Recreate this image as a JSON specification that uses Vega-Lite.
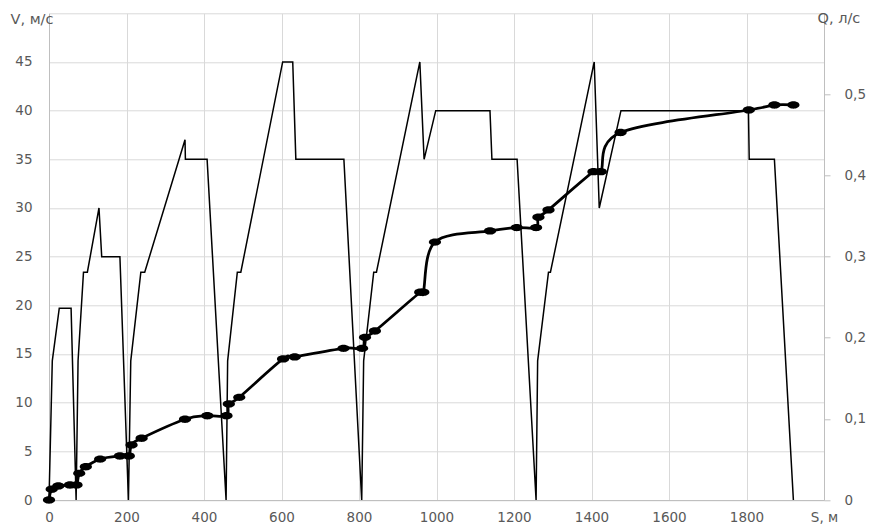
{
  "$schema": "https://vega.github.io/schema/vega-lite/v6.json",
  "width": 775,
  "height": 486.7,
  "autosize": {"type": "none"},
  "padding": {"left": 49, "top": 13.3, "right": 57, "bottom": 26},
  "background": "white",
  "config": {
    "view": {"stroke": null},
    "axis": {
      "labelFont": "DejaVu Sans",
      "labelFontSize": 13.5,
      "labelColor": "#595959",
      "titleFont": "DejaVu Sans",
      "titleFontSize": 14.5,
      "titleFontWeight": "normal",
      "titleColor": "#595959",
      "gridColor": "#d9d9d9",
      "gridWidth": 1,
      "domainColor": "#bfbfbf",
      "domainWidth": 1,
      "tickColor": "#bfbfbf",
      "labelFlush": false,
      "labelOverlap": false
    }
  },
  "datasets": {
    "v": [
      {"S": 0, "V": 0}, {"S": 8.5, "V": 14.3}, {"S": 26.5, "V": 19.7}, {"S": 57, "V": 19.7}, {"S": 70, "V": 0},
      {"S": 75, "V": 14.3}, {"S": 89, "V": 23.4}, {"S": 99, "V": 23.4}, {"S": 129, "V": 30}, {"S": 136, "V": 25}, {"S": 183, "V": 25}, {"S": 205, "V": 0},
      {"S": 211, "V": 14.3}, {"S": 237, "V": 23.4}, {"S": 247, "V": 23.4}, {"S": 351, "V": 37}, {"S": 352, "V": 35}, {"S": 408, "V": 35}, {"S": 457, "V": 0},
      {"S": 461, "V": 14.3}, {"S": 486, "V": 23.4}, {"S": 495, "V": 23.4}, {"S": 603, "V": 45}, {"S": 629, "V": 45}, {"S": 637, "V": 35}, {"S": 761, "V": 35}, {"S": 807, "V": 0},
      {"S": 812, "V": 14.3}, {"S": 838, "V": 23.4}, {"S": 845, "V": 23.4}, {"S": 957, "V": 45}, {"S": 968, "V": 35}, {"S": 998, "V": 40}, {"S": 1138, "V": 40}, {"S": 1143, "V": 35}, {"S": 1208, "V": 35}, {"S": 1257, "V": 0},
      {"S": 1261, "V": 14.3}, {"S": 1289, "V": 23.4}, {"S": 1294, "V": 23.4}, {"S": 1407, "V": 45}, {"S": 1420, "V": 30}, {"S": 1476, "V": 40}, {"S": 1805, "V": 40}, {"S": 1807, "V": 35}, {"S": 1872, "V": 35}, {"S": 1921, "V": 0}
    ],
    "q": [
      {"S": 0, "Q": 0}, {"S": 7, "Q": 0.0132}, {"S": 24, "Q": 0.0173}, {"S": 54, "Q": 0.0185}, {"S": 71, "Q": 0.0185},
      {"S": 78, "Q": 0.0329}, {"S": 95, "Q": 0.041}, {"S": 132, "Q": 0.0504}, {"S": 183, "Q": 0.0542}, {"S": 206, "Q": 0.0542},
      {"S": 213, "Q": 0.0678}, {"S": 239, "Q": 0.0761}, {"S": 351, "Q": 0.0995}, {"S": 408.5, "Q": 0.1039}, {"S": 458, "Q": 0.1039},
      {"S": 464, "Q": 0.1183}, {"S": 491, "Q": 0.1266}, {"S": 604, "Q": 0.1739}, {"S": 634, "Q": 0.1764}, {"S": 760, "Q": 0.187},
      {"S": 808, "Q": 0.187}, {"S": 815.5, "Q": 0.2005}, {"S": 841, "Q": 0.2083}, {"S": 958, "Q": 0.2561}, {"S": 966, "Q": 0.2561},
      {"S": 996, "Q": 0.318}, {"S": 1138, "Q": 0.3317}, {"S": 1207, "Q": 0.3358}, {"S": 1257, "Q": 0.3358}, {"S": 1263, "Q": 0.3486},
      {"S": 1289, "Q": 0.3576}, {"S": 1405, "Q": 0.4048}, {"S": 1424, "Q": 0.4048}, {"S": 1475, "Q": 0.4531}, {"S": 1806, "Q": 0.4808},
      {"S": 1872, "Q": 0.487}, {"S": 1921, "Q": 0.487}
    ]
  },
  "layer": [
    {
      "data": {"name": "v"},
      "mark": {"type": "line", "color": "black", "strokeWidth": 1.5},
      "encoding": {
        "x": {
          "field": "S", "type": "quantitative",
          "scale": {"domain": [0, 2000], "nice": false},
          "axis": {
            "values": [0, 200, 400, 600, 800, 1000, 1200, 1400, 1600, 1800, 2000],
            "format": "d",
            "labelExpr": "datum.value == 2000 ? 'S, м' : datum.label",
            "title": null,
            "grid": true,
            "ticks": false,
            "labelPadding": 10
          }
        },
        "y": {
          "field": "V", "type": "quantitative",
          "scale": {"domain": [0, 50], "nice": false},
          "axis": {
            "values": [0, 5, 10, 15, 20, 25, 30, 35, 40, 45, 50],
            "labelExpr": "datum.value == 50 ? '' : datum.label",
            "title": "V, м/с",
            "titleAngle": 0,
            "titleX": -39,
            "titleY": 6,
            "titleAlign": "left",
            "titleBaseline": "middle",
            "grid": true,
            "ticks": false,
            "labelPadding": 17
          }
        }
      }
    },
    {
      "data": {"name": "q"},
      "encoding": {
        "x": {"field": "S", "type": "quantitative", "scale": {"domain": [0, 2000], "nice": false}},
        "y": {
          "field": "Q", "type": "quantitative",
          "scale": {"domain": [0, 0.6], "nice": false},
          "axis": {
            "orient": "right",
            "values": [0, 0.1, 0.2, 0.3, 0.4, 0.5],
            "labelExpr": "datum.value == 0 ? '0' : replace(format(datum.value, '.1f'), '.', ',')",
            "title": "Q, л/с",
            "titleAngle": 0,
            "titleX": -7,
            "titleY": 5,
            "titleAlign": "left",
            "titleBaseline": "middle",
            "grid": false,
            "ticks": true,
            "tickSize": 6,
            "labelPadding": 14
          }
        }
      },
      "layer": [
        {"mark": {"type": "line", "color": "black", "strokeWidth": 2.75, "interpolate": "cardinal", "tension": 0}},
        {"mark": {"type": "point", "filled": true, "color": "black", "opacity": 1, "size": 150, "shape": "M -1 0 A 1 0.6 0 1 0 1 0 A 1 0.6 0 1 0 -1 0 Z"}}
      ]
    }
  ],
  "resolve": {"scale": {"y": "independent"}}
}
